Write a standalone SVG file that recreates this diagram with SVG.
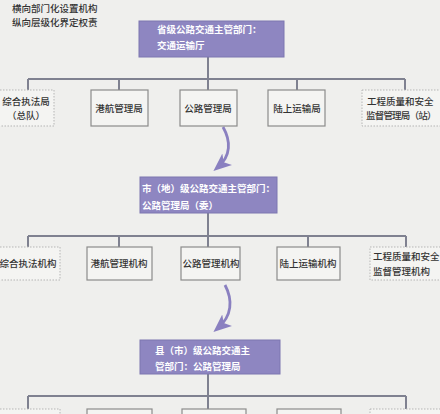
<svg xmlns="http://www.w3.org/2000/svg" width="440" height="414" viewBox="0 0 440 414">
<style>
text{font-family:"Noto Sans CJK SC","Noto Sans",sans-serif;font-size:9.5px;dominant-baseline:central}
.t{fill:#333333;font-weight:500}
.c{text-anchor:middle}
.w{fill:#ffffff;font-weight:700}
.pb{fill:#8e86c1;stroke:#7d76b0;stroke-width:1}
.gb{fill:#f4f4f2;stroke:#8b8b8b;stroke-width:1.2}
.db{fill:#f4f4f2;stroke:#b5b5b5;stroke-width:1;stroke-dasharray:1.5 1.5}
.ln{fill:none;stroke:#7f8190;stroke-width:2}
.ar{fill:none;stroke:#8a80c0;stroke-width:2.8}
</style>
<defs>
<marker id="ah" viewBox="0 0 12 10" refX="8" refY="5" markerWidth="18" markerHeight="16" markerUnits="userSpaceOnUse" orient="auto">
<path d="M0,0 L12,5 L0,10 L3,5 z" fill="#8a80c0"/>
</marker>
</defs>
<rect x="0" y="0" width="440" height="414" fill="#efefed"/>
<g id="title">
<text class="t" x="12" y="8">横向部门化设置机构</text>
<text class="t" x="12" y="22">纵向层级化界定权责</text>
</g>
<g id="connectors">
<path class="ln" d="M208,57 V90 M28,79 H405 M28,79 V90 M119,79 V90 M297,79 V90 M405,79 V90"/>
<path class="ln" d="M208,213 V247 M28,236 H406 M28,236 V247 M119,236 V247 M308,236 V247 M406,236 V247"/>
<path class="ln" d="M208,374 V409 M28,396 H406 M28,396 V409 M406,396 V409"/>
<path class="ar" d="M223,127 C231,141 231,156 218,167" marker-end="url(#ah)"/>
<path class="ar" d="M225,285 C233,300 232,316 218,328" marker-end="url(#ah)"/>
</g>
<g id="n-province">
<rect class="pb" x="139" y="21" width="145" height="36"/>
<text class="w" x="157" y="29">省级公路交通主管部门：</text>
<text class="w" x="157" y="45">交通运输厅</text>
</g>
<g id="n-r1-1"><rect class="db" x="-3" y="90" width="57" height="36"/>
<text class="t c" x="26" y="101">综合执法局</text><text class="t c" x="26" y="115">（总队）</text></g>
<g id="n-r1-2"><rect class="gb" x="91" y="90" width="57" height="36"/>
<text class="t c" x="119" y="108">港航管理局</text></g>
<g id="n-r1-3"><rect class="gb" x="180" y="90" width="57" height="36"/>
<text class="t c" x="208" y="108">公路管理局</text></g>
<g id="n-r1-4"><rect class="gb" x="268" y="90" width="57" height="36"/>
<text class="t c" x="297" y="108">陆上运输局</text></g>
<g id="n-r1-5"><rect class="db" x="362" y="90" width="80" height="36"/>
<text class="t" x="367" y="101">工程质量和安全</text><text class="t" x="366" y="115" style="letter-spacing:-0.8px">监督管理局（站）</text></g>
<g id="n-city">
<rect class="pb" x="140" y="177" width="137" height="36"/>
<text class="w" x="142" y="188">市（地）级公路交通主管部门：</text>
<text class="w" x="142" y="205">公路管理局（委）</text>
</g>
<g id="n-r2-1"><rect class="db" x="-3" y="247" width="63" height="33"/>
<text class="t c" x="28" y="263">综合执法机构</text></g>
<g id="n-r2-2"><rect class="gb" x="87" y="247" width="65" height="33"/>
<text class="t c" x="119" y="263">港航管理机构</text></g>
<g id="n-r2-3"><rect class="gb" x="181" y="247" width="59" height="33"/>
<text class="t c" x="211" y="263">公路管理机构</text></g>
<g id="n-r2-4"><rect class="gb" x="277" y="247" width="63" height="33"/>
<text class="t c" x="308" y="263">陆上运输机构</text></g>
<g id="n-r2-5"><rect class="db" x="370" y="247" width="75" height="33"/>
<text class="t" x="373" y="256">工程质量和安全</text><text class="t" x="373" y="271">监督管理机构</text></g>
<g id="n-county">
<rect class="pb" x="140" y="340" width="140" height="34"/>
<text class="w" x="155" y="350">县（市）级公路交通主</text>
<text class="w" x="155" y="366">管部门：公路管理局</text>
</g>
<g id="n-r3-1"><rect class="db" x="-3" y="409" width="63" height="20"/></g>
<g id="n-r3-2"><rect class="gb" x="87" y="409" width="65" height="20"/></g>
<g id="n-r3-3"><rect class="gb" x="182" y="409" width="64" height="20"/></g>
<g id="n-r3-4"><rect class="gb" x="277" y="409" width="64" height="20"/></g>
<g id="n-r3-5"><rect class="db" x="370" y="409" width="75" height="20"/></g>
</svg>
